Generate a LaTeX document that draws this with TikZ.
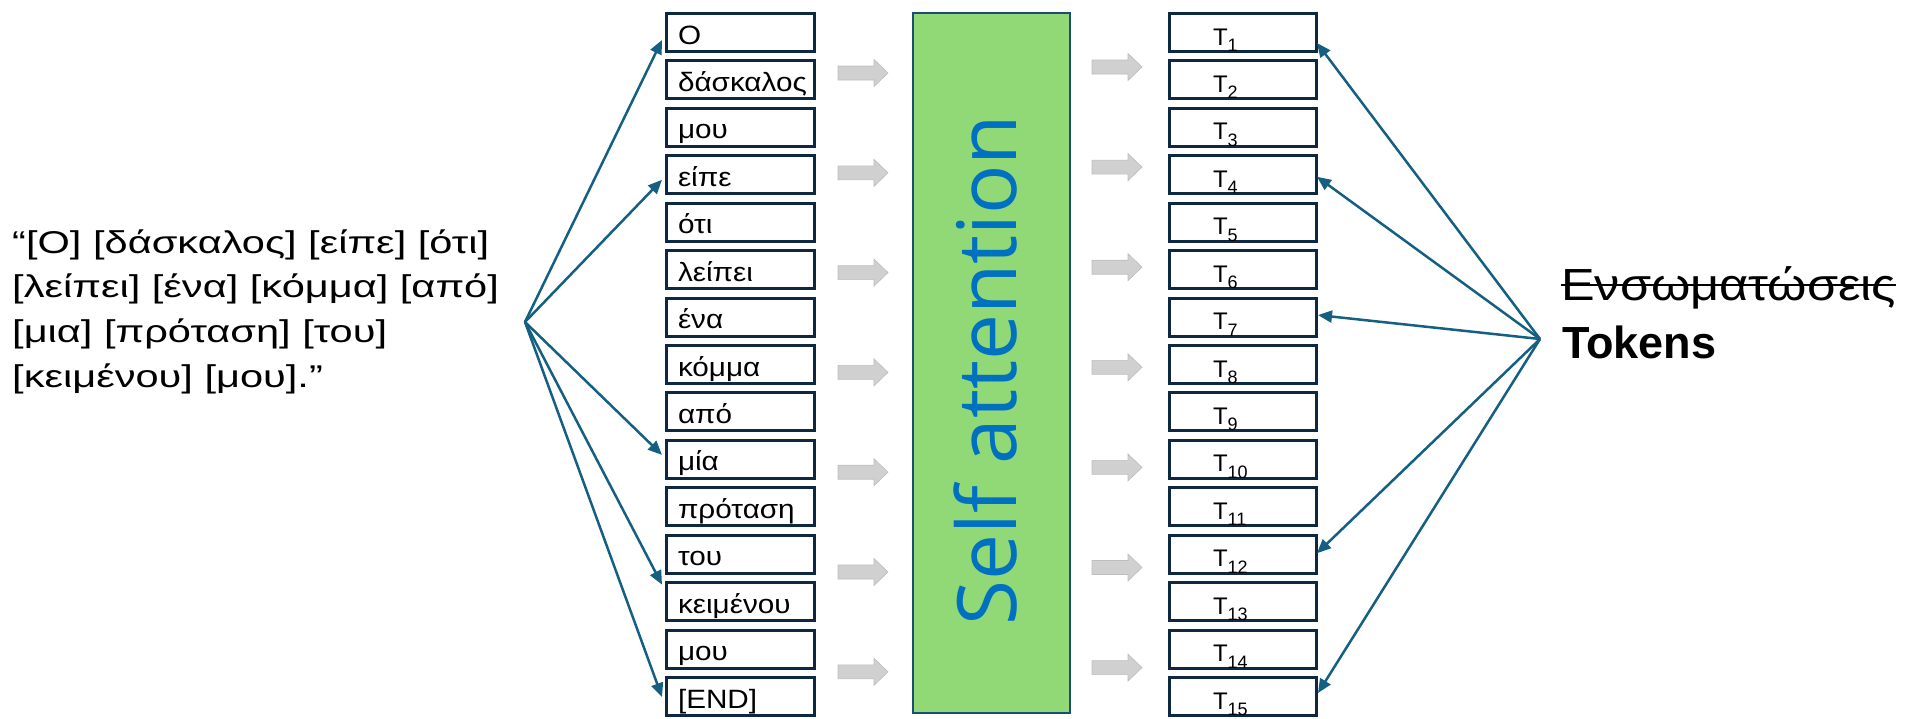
\documentclass[tikz,border=0pt]{standalone}
\usepackage{fontspec}
\setmainfont{Liberation Sans}
\newfontfamily\safont{Open Sans}
\newfontfamily\srcfont[FakeStretch=1.32]{Liberation Sans}
\newfontfamily\wordfont[FakeStretch=1.12]{Liberation Sans}
\usetikzlibrary{arrows.meta,calc}

\definecolor{boxline}{HTML}{0E2841}
\definecolor{fanblue}{HTML}{156082}
\definecolor{sagreen}{HTML}{91D877}
\definecolor{saedge}{HTML}{1B4F72}
\definecolor{satext}{HTML}{0070C0}
\definecolor{arrowgray}{HTML}{D0D0D0}
\definecolor{arrowedge}{HTML}{BDBDBD}

% left-aligned word inside a fixed-width slot
\newcommand\wordslot[2]{\makebox[#1][l]{#2}}
% token label T with a lowered index
\newcommand\tokname[1]{T\raisebox{-6.5pt}{\fontsize{18pt}{18pt}\selectfont #1}}

\begin{document}
\begin{tikzpicture}[x=1pt,y=-1pt,
  wordbox/.style={draw=boxline,line width=3pt,fill=white,inner xsep=11.5pt,inner ysep=0pt,
    minimum height=38pt,text height=26pt,text depth=3pt,
    font=\wordfont\fontsize{26.5pt}{30pt}\selectfont},
  tokbox/.style={draw=boxline,line width=3pt,fill=white,inner xsep=43.5pt,inner ysep=0pt,
    minimum height=38pt,text height=27pt,text depth=2pt,
    font=\fontsize{24pt}{28pt}\selectfont},
  fan/.style={draw=fanblue,line width=2.5pt,-{Triangle[length=14pt,width=12pt]}},
  graya/.pic={\filldraw[fill=arrowgray,draw=arrowedge,line width=0.6pt]
    (0,-7) -- (36,-7) -- (36,-13.5) -- (50,0) -- (36,13.5) -- (36,7) -- (0,7) -- cycle;}
]
\useasboundingbox (0,0) rectangle (1915,718);

% input sentence (anchored at the baseline of its last line)
\node[anchor=base west,inner sep=0pt,align=left,
  font=\srcfont\fontsize{31.5pt}{44.6pt}\selectfont] (src) at (12,387)
  {“[Ο] [δάσκαλος] [είπε] [ότι]\\{}%
   [λείπει] [ένα] [κόμμα] [από]\\{}%
   [μια] [πρόταση] [του]\\{}%
   [κειμένου] [μου].”};

% word column
\foreach \w [count=\i] in {Ο,δάσκαλος,μου,είπε,ότι,λείπει,ένα,κόμμα,από,μία,πρόταση,του,κειμένου,μου,{[END]}}
  \node[wordbox] (w\i) at (740.5,{32.5+(\i-1)*47.43}) {\wordslot{125pt}{\w}};

% token column
\foreach \i in {1,...,15}
  \node[tokbox] (t\i) at (1243,{32.5+(\i-1)*47.43}) {\wordslot{60pt}{\tokname{\i}}};

% self attention block
\node[draw=saedge,fill=sagreen,line width=2pt,minimum width=157pt,minimum height=700pt,inner sep=0pt]
  (sa) at (991.5,363) {};
\node[rotate=90,inner sep=0pt,text=satext,font=\safont\fontsize{82pt}{90pt}\selectfont]
  (satitle) at (986,370) {Self attention};

% gray flow arrows
\foreach \k in {0,...,6} {
  \pic at (838,{73+99.8*\k}) {graya};
  \pic at (1092,{67+100.1*\k}) {graya};
}

% splitting the sentence into words
\coordinate (fanL) at (525,322);
\draw[fan] (fanL) -- ($(w1.west)+(-3,7.5)$);
\draw[fan] (fanL) -- ($(w4.west)+(-3,5)$);
\draw[fan] (fanL) -- ($(w10.west)+(-3,-4.5)$);
\draw[fan] (fanL) -- ($(w13.west)+(-3,-17)$);
\draw[fan] (fanL) -- ($(w15.west)+(-3,0.5)$);

% labels on the right
\node[anchor=base west,inner sep=0pt,font=\wordfont\fontsize{45pt}{54pt}\selectfont] (emb) at (1561,300) {Ενσωματώσεις};
\draw[line width=2pt] ($(emb.base west)+(0,-15)$) -- ($(emb.base east)+(0,-15)$);
\node[anchor=base west,inner sep=0pt,font=\bfseries\fontsize{45pt}{54pt}\selectfont] (tok) at (1562,358) {Tokens};

\coordinate (fanR) at (1540,339);
\draw[fan] (fanR) -- ($(t1.east)+(-1,10.5)$);
\draw[fan] (fanR) -- ($(t4.east)+(-1,2)$);
\draw[fan] (fanR) -- ($(t7.east)+(0,-2)$);
\draw[fan] (fanR) -- ($(t12.east)+(-1,-1)$);
\draw[fan] (fanR) -- ($(t15.east)+(0,-3.5)$);
\end{tikzpicture}
\end{document}
